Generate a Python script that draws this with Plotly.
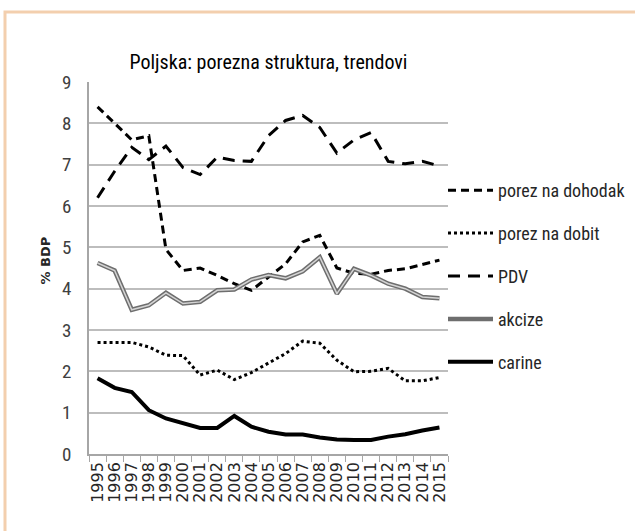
import plotly.graph_objects as go

years = [str(y) for y in range(1995, 2016)]
porez_na_dohodak = [8.4, 8.0, 7.6, 7.7, 4.95, 4.44, 4.5, 4.32, 4.12, 3.96, 4.28, 4.6, 5.13, 5.29, 4.5, 4.37, 4.35, 4.44, 4.48, 4.59, 4.69]
porez_na_dobit = [2.7, 2.7, 2.7, 2.59, 2.39, 2.38, 1.91, 2.03, 1.8, 1.97, 2.19, 2.43, 2.73, 2.68, 2.27, 1.99, 2.0, 2.07, 1.77, 1.77, 1.85]
pdv = [6.2, 6.84, 7.42, 7.12, 7.45, 6.93, 6.76, 7.18, 7.1, 7.08, 7.7, 8.07, 8.19, 7.9, 7.28, 7.6, 7.78, 7.08, 7.02, 7.08, 6.97]
akcize = [4.62, 4.44, 3.49, 3.6, 3.9, 3.64, 3.68, 3.96, 3.98, 4.22, 4.33, 4.25, 4.42, 4.76, 3.88, 4.48, 4.32, 4.12, 4.0, 3.8, 3.77]
carine = [1.83, 1.6, 1.5, 1.06, 0.86, 0.74, 0.63, 0.63, 0.92, 0.66, 0.54, 0.47, 0.47, 0.4, 0.35, 0.34, 0.34, 0.42, 0.48, 0.57, 0.64]
y_ticks = [0, 1, 2, 3, 4, 5, 6, 7, 8, 9]

NARROW = "Liberation Sans Narrow, Arial Narrow, Roboto Condensed, Roboto, sans-serif"

fig = go.Figure()
fig.add_trace(go.Scatter(x=years, y=porez_na_dohodak, name="porez na dohodak", mode="lines",
                         line=dict(color="black", width=3, dash="8px,5px"), legendgroup="a"))
fig.add_trace(go.Scatter(x=years, y=porez_na_dobit, name="porez na dobit", mode="lines",
                         line=dict(color="black", width=3, dash="3px,3px"), legendgroup="b"))
fig.add_trace(go.Scatter(x=years, y=pdv, name="PDV", mode="lines",
                         line=dict(color="black", width=3, dash="12px,8px"), legendgroup="c"))
fig.add_trace(go.Scatter(x=years, y=akcize, name="akcize", mode="lines",
                         line=dict(color="#6e6e6e", width=4.5), legendgroup="d"))
fig.add_trace(go.Scatter(x=years, y=akcize, name="akcize", mode="lines", showlegend=False,
                         line=dict(color="#d4d4d4", width=1.5), legendgroup="d"))
fig.add_trace(go.Scatter(x=years, y=carine, name="carine", mode="lines",
                         line=dict(color="black", width=4), legendgroup="e"))

fig.update_layout(
    width=635, height=531,
    margin=dict(l=89, r=187, t=82, b=77, autoexpand=False),
    paper_bgcolor="white", plot_bgcolor="white",
    font=dict(family=NARROW, color="#262626"),
    title=dict(text="Poljska: porezna struktura, trendovi", x=0.5, xref="paper",
               y=1 - 62 / 531, yref="container", yanchor="middle", xanchor="center",
               font=dict(family=NARROW, size=20, color="black")),
    showlegend=True,
    legend=dict(x=(443 - 89) / 359, xanchor="left", y=(454 - 172) / 372, yanchor="top",
                traceorder="grouped", tracegroupgap=16.5,
                font=dict(family=NARROW, size=18, color="#262626"),
                itemwidth=45, bgcolor="rgba(0,0,0,0)"),
    xaxis=dict(type="category", showgrid=False, showline=True, linecolor="#a6a6a6", linewidth=1.5,
               ticks="outside", tickson="boundaries", ticklen=6, tickcolor="#a6a6a6",
               tickmode="linear", tick0=0, dtick=1,
               tickangle=-90, tickfont=dict(family="DejaVu Sans", size=16, color="#262626"),
               range=[-0.5, 20.5]),
    yaxis=dict(range=[0, 9], tickvals=y_ticks, showgrid=True, gridcolor="#bdbdbd", gridwidth=1.5,
               showline=True, linecolor="#a6a6a6", linewidth=1.5, zeroline=False, ticks="",
               ticklabelstandoff=12, tickfont=dict(family=NARROW, size=19, color="#404040")),
    annotations=[dict(text="<b>% BDP</b>", xref="paper", yref="paper", x=-0.12, y=0.52,
                      textangle=-90, showarrow=False, xanchor="center", yanchor="middle",
                      font=dict(family="DejaVu Sans", size=13, color="#262626"))],
    shapes=[dict(type="rect", xref="paper", yref="paper", x0=(5 - 89) / 359, x1=(660 - 89) / 359,
                 y0=(454 - 560) / 372, y1=(454 - 12) / 372,
                 line=dict(color="#f3cfae", width=3), layer="below")],
)

fig.write_html("out.html", config={"displayModeBar": False},
               post_script="document.body.style.margin='0';document.body.style.overflow='hidden';")
